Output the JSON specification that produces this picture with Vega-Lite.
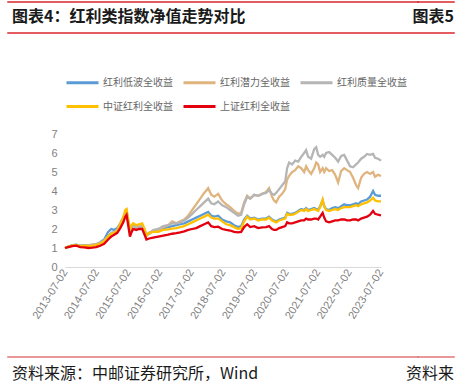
{
"$schema":"https://vega.github.io/schema/vega-lite/v6.json",
"padding":{"left":7,"top":1,"right":0,"bottom":0},
"config":{"view":{"stroke":null},"font":"Noto Sans CJK SC"},
"spacing":132,"bounds":"flush",
"resolve":{"scale":{"color":"independent"},"legend":{"color":"independent"}},
"vconcat":[
 {"spacing":31,"bounds":"flush","vconcat":[
  {"spacing":0.01,"bounds":"flush","hconcat":[
   {"width":410,"height":0.01,"data":{"values":[]},"mark":"rule","encoding":{},"view":{"stroke":"#D9262B","strokeWidth":1.5},
    "title":{"text":"图表4：红利类指数净值走势对比","orient":"bottom","anchor":"start","frame":"group","offset":7,"dx":4,"fontSize":16,"fontWeight":"bold","font":"Noto Sans CJK SC","color":"#1A1A1A"}},
   {"width":36,"height":0.01,"data":{"values":[]},"mark":"rule","encoding":{},"view":{"stroke":"#D9262B","strokeWidth":1.5},
    "title":{"text":"图表5","orient":"bottom","anchor":"end","frame":"group","offset":7,"fontSize":16,"fontWeight":"bold","font":"Noto Sans CJK SC","color":"#1A1A1A"}}
  ]},
  {"width":446,"height":0.01,"data":{"values":[]},"mark":"rule","encoding":{},"view":{"stroke":"#D9262B","strokeWidth":1.5}}
 ]},
 {"spacing":223,"bounds":"flush","resolve":{"scale":{"color":"independent"},"legend":{"color":"independent"}},"vconcat":[
  {"spacing":0.01,"bounds":"flush","resolve":{"scale":{"color":"independent"},"legend":{"color":"independent"}},"hconcat":[
   {"width":56.7,"height":0.01,"data":{"values":[]},"mark":"rule","encoding":{}},
   {"width":316,"height":133,
    "data":{"values":[
{"d":"2013-07-02","s":"红利低波全收益","v":1.00},{"d":"2013-08-09","s":"红利低波全收益","v":1.08},{"d":"2013-09-24","s":"红利低波全收益","v":1.15},{"d":"2013-11-09","s":"红利低波全收益","v":1.18},{"d":"2013-12-25","s":"红利低波全收益","v":1.12},{"d":"2014-02-10","s":"红利低波全收益","v":1.15},{"d":"2014-03-28","s":"红利低波全收益","v":1.13},{"d":"2014-05-13","s":"红利低波全收益","v":1.16},{"d":"2014-06-28","s":"红利低波全收益","v":1.20},{"d":"2014-08-13","s":"红利低波全收益","v":1.30},{"d":"2014-09-28","s":"红利低波全收益","v":1.45},{"d":"2014-11-13","s":"红利低波全收益","v":1.85},{"d":"2014-12-18","s":"红利低波全收益","v":2.00},{"d":"2015-01-22","s":"红利低波全收益","v":1.95},{"d":"2015-02-26","s":"红利低波全收益","v":2.05},{"d":"2015-04-02","s":"红利低波全收益","v":2.30},{"d":"2015-05-07","s":"红利低波全收益","v":2.60},{"d":"2015-05-30","s":"红利低波全收益","v":2.85},{"d":"2015-06-14","s":"红利低波全收益","v":2.90},{"d":"2015-07-03","s":"红利低波全收益","v":2.40},{"d":"2015-07-23","s":"红利低波全收益","v":1.95},{"d":"2015-08-12","s":"红利低波全收益","v":2.10},{"d":"2015-08-30","s":"红利低波全收益","v":2.20},{"d":"2015-10-03","s":"红利低波全收益","v":2.10},{"d":"2015-11-07","s":"红利低波全收益","v":2.15},{"d":"2015-12-12","s":"红利低波全收益","v":2.15},{"d":"2016-01-04","s":"红利低波全收益","v":2.00},{"d":"2016-01-30","s":"红利低波全收益","v":1.70},{"d":"2016-03-02","s":"红利低波全收益","v":1.80},{"d":"2016-04-17","s":"红利低波全收益","v":1.90},{"d":"2016-06-15","s":"红利低波全收益","v":1.95},{"d":"2016-08-11","s":"红利低波全收益","v":2.05},{"d":"2016-10-08","s":"红利低波全收益","v":2.10},{"d":"2016-11-23","s":"红利低波全收益","v":2.15},{"d":"2017-01-09","s":"红利低波全收益","v":2.20},{"d":"2017-02-24","s":"红利低波全收益","v":2.25},{"d":"2017-04-11","s":"红利低波全收益","v":2.30},{"d":"2017-05-27","s":"红利低波全收益","v":2.40},{"d":"2017-07-12","s":"红利低波全收益","v":2.50},{"d":"2017-08-27","s":"红利低波全收益","v":2.60},{"d":"2017-10-13","s":"红利低波全收益","v":2.70},{"d":"2017-11-28","s":"红利低波全收益","v":2.80},{"d":"2018-01-13","s":"红利低波全收益","v":2.90},{"d":"2018-02-17","s":"红利低波全收益","v":2.70},{"d":"2018-03-24","s":"红利低波全收益","v":2.65},{"d":"2018-05-09","s":"红利低波全收益","v":2.70},{"d":"2018-06-24","s":"红利低波全收益","v":2.50},{"d":"2018-08-09","s":"红利低波全收益","v":2.40},{"d":"2018-09-24","s":"红利低波全收益","v":2.35},{"d":"2018-11-09","s":"红利低波全收益","v":2.20},{"d":"2018-12-25","s":"红利低波全收益","v":2.10},{"d":"2019-01-29","s":"红利低波全收益","v":2.15},{"d":"2019-03-05","s":"红利低波全收益","v":2.50},{"d":"2019-04-09","s":"红利低波全收益","v":2.70},{"d":"2019-05-14","s":"红利低波全收益","v":2.55},{"d":"2019-06-29","s":"红利低波全收益","v":2.60},{"d":"2019-08-14","s":"红利低波全收益","v":2.50},{"d":"2019-09-29","s":"红利低波全收益","v":2.55},{"d":"2019-11-14","s":"红利低波全收益","v":2.55},{"d":"2019-12-18","s":"红利低波全收益","v":2.65},{"d":"2020-01-22","s":"红利低波全收益","v":2.50},{"d":"2020-02-14","s":"红利低波全收益","v":2.45},{"d":"2020-03-09","s":"红利低波全收益","v":2.40},{"d":"2020-04-13","s":"红利低波全收益","v":2.50},{"d":"2020-05-18","s":"红利低波全收益","v":2.55},{"d":"2020-06-22","s":"红利低波全收益","v":2.60},{"d":"2020-07-14","s":"红利低波全收益","v":2.85},{"d":"2020-08-06","s":"红利低波全收益","v":2.80},{"d":"2020-09-10","s":"红利低波全收益","v":2.80},{"d":"2020-10-15","s":"红利低波全收益","v":2.85},{"d":"2020-11-19","s":"红利低波全收益","v":2.95},{"d":"2020-12-24","s":"红利低波全收益","v":3.05},{"d":"2021-01-27","s":"红利低波全收益","v":3.00},{"d":"2021-02-19","s":"红利低波全收益","v":3.10},{"d":"2021-03-14","s":"红利低波全收益","v":3.00},{"d":"2021-04-18","s":"红利低波全收益","v":3.05},{"d":"2021-05-23","s":"红利低波全收益","v":3.10},{"d":"2021-06-15","s":"红利低波全收益","v":3.05},{"d":"2021-07-08","s":"红利低波全收益","v":3.00},{"d":"2021-07-31","s":"红利低波全收益","v":3.20},{"d":"2021-08-29","s":"红利低波全收益","v":3.50},{"d":"2021-09-16","s":"红利低波全收益","v":3.20},{"d":"2021-10-08","s":"红利低波全收益","v":3.05},{"d":"2021-11-12","s":"红利低波全收益","v":3.00},{"d":"2021-12-17","s":"红利低波全收益","v":3.10},{"d":"2022-01-21","s":"红利低波全收益","v":3.15},{"d":"2022-02-24","s":"红利低波全收益","v":3.10},{"d":"2022-03-31","s":"红利低波全收益","v":3.20},{"d":"2022-05-05","s":"红利低波全收益","v":3.30},{"d":"2022-06-08","s":"红利低波全收益","v":3.25},{"d":"2022-07-12","s":"红利低波全收益","v":3.25},{"d":"2022-08-16","s":"红利低波全收益","v":3.30},{"d":"2022-09-20","s":"红利低波全收益","v":3.35},{"d":"2022-10-13","s":"红利低波全收益","v":3.30},{"d":"2022-11-17","s":"红利低波全收益","v":3.45},{"d":"2022-12-21","s":"红利低波全收益","v":3.50},{"d":"2023-01-25","s":"红利低波全收益","v":3.55},{"d":"2023-03-01","s":"红利低波全收益","v":3.70},{"d":"2023-04-04","s":"红利低波全收益","v":4.00},{"d":"2023-04-27","s":"红利低波全收益","v":3.80},{"d":"2023-06-01","s":"红利低波全收益","v":3.75},{"d":"2023-07-05","s":"红利低波全收益","v":3.75},
{"d":"2013-07-02","s":"红利潜力全收益","v":1.00},{"d":"2013-08-09","s":"红利潜力全收益","v":1.07},{"d":"2013-09-24","s":"红利潜力全收益","v":1.12},{"d":"2013-11-09","s":"红利潜力全收益","v":1.15},{"d":"2013-12-25","s":"红利潜力全收益","v":1.10},{"d":"2014-02-10","s":"红利潜力全收益","v":1.13},{"d":"2014-03-28","s":"红利潜力全收益","v":1.15},{"d":"2014-05-13","s":"红利潜力全收益","v":1.18},{"d":"2014-06-28","s":"红利潜力全收益","v":1.20},{"d":"2014-08-13","s":"红利潜力全收益","v":1.28},{"d":"2014-09-28","s":"红利潜力全收益","v":1.40},{"d":"2014-11-13","s":"红利潜力全收益","v":1.60},{"d":"2014-12-18","s":"红利潜力全收益","v":1.75},{"d":"2015-01-22","s":"红利潜力全收益","v":1.80},{"d":"2015-02-26","s":"红利潜力全收益","v":1.95},{"d":"2015-04-02","s":"红利潜力全收益","v":2.30},{"d":"2015-05-07","s":"红利潜力全收益","v":2.60},{"d":"2015-05-30","s":"红利潜力全收益","v":2.85},{"d":"2015-06-14","s":"红利潜力全收益","v":2.95},{"d":"2015-07-03","s":"红利潜力全收益","v":2.35},{"d":"2015-07-23","s":"红利潜力全收益","v":1.95},{"d":"2015-08-12","s":"红利潜力全收益","v":2.10},{"d":"2015-08-30","s":"红利潜力全收益","v":2.20},{"d":"2015-10-03","s":"红利潜力全收益","v":2.10},{"d":"2015-11-07","s":"红利潜力全收益","v":2.15},{"d":"2015-12-12","s":"红利潜力全收益","v":2.20},{"d":"2016-01-04","s":"红利潜力全收益","v":1.95},{"d":"2016-01-30","s":"红利潜力全收益","v":1.65},{"d":"2016-03-02","s":"红利潜力全收益","v":1.75},{"d":"2016-04-17","s":"红利潜力全收益","v":1.90},{"d":"2016-06-15","s":"红利潜力全收益","v":1.95},{"d":"2016-08-11","s":"红利潜力全收益","v":2.10},{"d":"2016-10-08","s":"红利潜力全收益","v":2.20},{"d":"2016-11-23","s":"红利潜力全收益","v":2.40},{"d":"2017-01-09","s":"红利潜力全收益","v":2.30},{"d":"2017-02-24","s":"红利潜力全收益","v":2.40},{"d":"2017-04-11","s":"红利潜力全收益","v":2.50},{"d":"2017-05-27","s":"红利潜力全收益","v":2.70},{"d":"2017-07-12","s":"红利潜力全收益","v":3.00},{"d":"2017-08-27","s":"红利潜力全收益","v":3.30},{"d":"2017-10-13","s":"红利潜力全收益","v":3.60},{"d":"2017-11-28","s":"红利潜力全收益","v":3.90},{"d":"2018-01-13","s":"红利潜力全收益","v":4.15},{"d":"2018-02-17","s":"红利潜力全收益","v":3.80},{"d":"2018-03-24","s":"红利潜力全收益","v":3.70},{"d":"2018-05-09","s":"红利潜力全收益","v":3.85},{"d":"2018-06-24","s":"红利潜力全收益","v":3.50},{"d":"2018-08-09","s":"红利潜力全收益","v":3.30},{"d":"2018-09-24","s":"红利潜力全收益","v":3.15},{"d":"2018-11-09","s":"红利潜力全收益","v":2.95},{"d":"2018-12-25","s":"红利潜力全收益","v":2.80},{"d":"2019-01-29","s":"红利潜力全收益","v":2.85},{"d":"2019-03-05","s":"红利潜力全收益","v":3.40},{"d":"2019-04-09","s":"红利潜力全收益","v":3.75},{"d":"2019-05-14","s":"红利潜力全收益","v":3.60},{"d":"2019-06-29","s":"红利潜力全收益","v":3.80},{"d":"2019-08-14","s":"红利潜力全收益","v":3.75},{"d":"2019-09-29","s":"红利潜力全收益","v":3.85},{"d":"2019-11-14","s":"红利潜力全收益","v":3.95},{"d":"2019-12-18","s":"红利潜力全收益","v":4.15},{"d":"2020-01-22","s":"红利潜力全收益","v":3.70},{"d":"2020-02-14","s":"红利潜力全收益","v":3.50},{"d":"2020-03-09","s":"红利潜力全收益","v":3.40},{"d":"2020-04-13","s":"红利潜力全收益","v":3.70},{"d":"2020-05-18","s":"红利潜力全收益","v":3.85},{"d":"2020-06-22","s":"红利潜力全收益","v":4.10},{"d":"2020-07-14","s":"红利潜力全收益","v":4.60},{"d":"2020-08-06","s":"红利潜力全收益","v":4.80},{"d":"2020-09-10","s":"红利潜力全收益","v":5.00},{"d":"2020-10-15","s":"红利潜力全收益","v":5.10},{"d":"2020-11-19","s":"红利潜力全收益","v":5.30},{"d":"2020-12-24","s":"红利潜力全收益","v":5.20},{"d":"2021-01-27","s":"红利潜力全收益","v":5.00},{"d":"2021-02-19","s":"红利潜力全收益","v":5.30},{"d":"2021-03-14","s":"红利潜力全收益","v":5.10},{"d":"2021-04-18","s":"红利潜力全收益","v":4.90},{"d":"2021-05-23","s":"红利潜力全收益","v":5.20},{"d":"2021-06-15","s":"红利潜力全收益","v":5.50},{"d":"2021-07-08","s":"红利潜力全收益","v":5.40},{"d":"2021-07-31","s":"红利潜力全收益","v":5.00},{"d":"2021-08-29","s":"红利潜力全收益","v":5.20},{"d":"2021-09-16","s":"红利潜力全收益","v":5.00},{"d":"2021-10-08","s":"红利潜力全收益","v":5.20},{"d":"2021-11-12","s":"红利潜力全收益","v":5.05},{"d":"2021-12-17","s":"红利潜力全收益","v":5.10},{"d":"2022-01-21","s":"红利潜力全收益","v":4.85},{"d":"2022-02-24","s":"红利潜力全收益","v":4.45},{"d":"2022-03-31","s":"红利潜力全收益","v":5.05},{"d":"2022-05-05","s":"红利潜力全收益","v":5.20},{"d":"2022-06-08","s":"红利潜力全收益","v":5.10},{"d":"2022-07-12","s":"红利潜力全收益","v":5.00},{"d":"2022-08-16","s":"红利潜力全收益","v":4.70},{"d":"2022-09-20","s":"红利潜力全收益","v":4.30},{"d":"2022-10-13","s":"红利潜力全收益","v":4.15},{"d":"2022-11-17","s":"红利潜力全收益","v":4.70},{"d":"2022-12-21","s":"红利潜力全收益","v":4.90},{"d":"2023-01-25","s":"红利潜力全收益","v":5.00},{"d":"2023-03-01","s":"红利潜力全收益","v":4.90},{"d":"2023-04-04","s":"红利潜力全收益","v":5.00},{"d":"2023-04-27","s":"红利潜力全收益","v":4.75},{"d":"2023-06-01","s":"红利潜力全收益","v":4.85},{"d":"2023-07-05","s":"红利潜力全收益","v":4.80},
{"d":"2013-07-02","s":"红利质量全收益","v":1.00},{"d":"2013-08-09","s":"红利质量全收益","v":1.08},{"d":"2013-09-24","s":"红利质量全收益","v":1.13},{"d":"2013-11-09","s":"红利质量全收益","v":1.15},{"d":"2013-12-25","s":"红利质量全收益","v":1.10},{"d":"2014-02-10","s":"红利质量全收益","v":1.13},{"d":"2014-03-28","s":"红利质量全收益","v":1.12},{"d":"2014-05-13","s":"红利质量全收益","v":1.15},{"d":"2014-06-28","s":"红利质量全收益","v":1.18},{"d":"2014-08-13","s":"红利质量全收益","v":1.25},{"d":"2014-09-28","s":"红利质量全收益","v":1.38},{"d":"2014-11-13","s":"红利质量全收益","v":1.62},{"d":"2014-12-18","s":"红利质量全收益","v":1.80},{"d":"2015-01-22","s":"红利质量全收益","v":1.85},{"d":"2015-02-26","s":"红利质量全收益","v":1.95},{"d":"2015-04-02","s":"红利质量全收益","v":2.25},{"d":"2015-05-07","s":"红利质量全收益","v":2.60},{"d":"2015-05-30","s":"红利质量全收益","v":2.85},{"d":"2015-06-14","s":"红利质量全收益","v":2.90},{"d":"2015-07-03","s":"红利质量全收益","v":2.40},{"d":"2015-07-23","s":"红利质量全收益","v":1.95},{"d":"2015-08-12","s":"红利质量全收益","v":2.10},{"d":"2015-08-30","s":"红利质量全收益","v":2.20},{"d":"2015-10-03","s":"红利质量全收益","v":2.05},{"d":"2015-11-07","s":"红利质量全收益","v":2.10},{"d":"2015-12-12","s":"红利质量全收益","v":2.15},{"d":"2016-01-04","s":"红利质量全收益","v":1.90},{"d":"2016-01-30","s":"红利质量全收益","v":1.65},{"d":"2016-03-02","s":"红利质量全收益","v":1.75},{"d":"2016-04-17","s":"红利质量全收益","v":1.95},{"d":"2016-06-15","s":"红利质量全收益","v":2.00},{"d":"2016-08-11","s":"红利质量全收益","v":2.15},{"d":"2016-10-08","s":"红利质量全收益","v":2.20},{"d":"2016-11-23","s":"红利质量全收益","v":2.30},{"d":"2017-01-09","s":"红利质量全收益","v":2.30},{"d":"2017-02-24","s":"红利质量全收益","v":2.35},{"d":"2017-04-11","s":"红利质量全收益","v":2.45},{"d":"2017-05-27","s":"红利质量全收益","v":2.60},{"d":"2017-07-12","s":"红利质量全收益","v":2.80},{"d":"2017-08-27","s":"红利质量全收益","v":3.00},{"d":"2017-10-13","s":"红利质量全收益","v":3.20},{"d":"2017-11-28","s":"红利质量全收益","v":3.40},{"d":"2018-01-13","s":"红利质量全收益","v":3.60},{"d":"2018-02-17","s":"红利质量全收益","v":3.35},{"d":"2018-03-24","s":"红利质量全收益","v":3.30},{"d":"2018-05-09","s":"红利质量全收益","v":3.45},{"d":"2018-06-24","s":"红利质量全收益","v":3.25},{"d":"2018-08-09","s":"红利质量全收益","v":3.15},{"d":"2018-09-24","s":"红利质量全收益","v":3.00},{"d":"2018-11-09","s":"红利质量全收益","v":2.85},{"d":"2018-12-25","s":"红利质量全收益","v":2.70},{"d":"2019-01-29","s":"红利质量全收益","v":2.75},{"d":"2019-03-05","s":"红利质量全收益","v":3.30},{"d":"2019-04-09","s":"红利质量全收益","v":3.70},{"d":"2019-05-14","s":"红利质量全收益","v":3.60},{"d":"2019-06-29","s":"红利质量全收益","v":3.80},{"d":"2019-08-14","s":"红利质量全收益","v":3.75},{"d":"2019-09-29","s":"红利质量全收益","v":3.85},{"d":"2019-11-14","s":"红利质量全收益","v":3.90},{"d":"2019-12-18","s":"红利质量全收益","v":4.05},{"d":"2020-01-22","s":"红利质量全收益","v":3.85},{"d":"2020-02-14","s":"红利质量全收益","v":3.80},{"d":"2020-03-09","s":"红利质量全收益","v":3.90},{"d":"2020-04-13","s":"红利质量全收益","v":4.10},{"d":"2020-05-18","s":"红利质量全收益","v":4.30},{"d":"2020-06-22","s":"红利质量全收益","v":4.50},{"d":"2020-07-14","s":"红利质量全收益","v":5.20},{"d":"2020-08-06","s":"红利质量全收益","v":5.50},{"d":"2020-09-10","s":"红利质量全收益","v":5.40},{"d":"2020-10-15","s":"红利质量全收益","v":5.60},{"d":"2020-11-19","s":"红利质量全收益","v":5.55},{"d":"2020-12-24","s":"红利质量全收益","v":5.80},{"d":"2021-01-27","s":"红利质量全收益","v":6.00},{"d":"2021-02-19","s":"红利质量全收益","v":6.15},{"d":"2021-03-14","s":"红利质量全收益","v":5.80},{"d":"2021-04-18","s":"红利质量全收益","v":5.70},{"d":"2021-05-23","s":"红利质量全收益","v":6.20},{"d":"2021-06-15","s":"红利质量全收益","v":6.30},{"d":"2021-07-08","s":"红利质量全收益","v":5.90},{"d":"2021-07-31","s":"红利质量全收益","v":5.80},{"d":"2021-08-29","s":"红利质量全收益","v":5.90},{"d":"2021-09-16","s":"红利质量全收益","v":5.80},{"d":"2021-10-08","s":"红利质量全收益","v":6.00},{"d":"2021-11-12","s":"红利质量全收益","v":6.05},{"d":"2021-12-17","s":"红利质量全收益","v":5.90},{"d":"2022-01-21","s":"红利质量全收益","v":5.75},{"d":"2022-02-24","s":"红利质量全收益","v":5.55},{"d":"2022-03-31","s":"红利质量全收益","v":5.85},{"d":"2022-05-05","s":"红利质量全收益","v":5.90},{"d":"2022-06-08","s":"红利质量全收益","v":5.60},{"d":"2022-07-12","s":"红利质量全收益","v":5.30},{"d":"2022-08-16","s":"红利质量全收益","v":5.25},{"d":"2022-09-20","s":"红利质量全收益","v":5.40},{"d":"2022-10-13","s":"红利质量全收益","v":5.50},{"d":"2022-11-17","s":"红利质量全收益","v":5.70},{"d":"2022-12-21","s":"红利质量全收益","v":5.80},{"d":"2023-01-25","s":"红利质量全收益","v":5.95},{"d":"2023-03-01","s":"红利质量全收益","v":5.90},{"d":"2023-04-04","s":"红利质量全收益","v":5.95},{"d":"2023-04-27","s":"红利质量全收益","v":5.75},{"d":"2023-06-01","s":"红利质量全收益","v":5.70},{"d":"2023-07-05","s":"红利质量全收益","v":5.60},
{"d":"2013-07-02","s":"中证红利全收益","v":1.00},{"d":"2013-08-09","s":"中证红利全收益","v":1.07},{"d":"2013-09-24","s":"中证红利全收益","v":1.12},{"d":"2013-11-09","s":"中证红利全收益","v":1.15},{"d":"2013-12-25","s":"中证红利全收益","v":1.10},{"d":"2014-02-10","s":"中证红利全收益","v":1.12},{"d":"2014-03-28","s":"中证红利全收益","v":1.10},{"d":"2014-05-13","s":"中证红利全收益","v":1.12},{"d":"2014-06-28","s":"中证红利全收益","v":1.15},{"d":"2014-08-13","s":"中证红利全收益","v":1.22},{"d":"2014-09-28","s":"中证红利全收益","v":1.35},{"d":"2014-11-13","s":"中证红利全收益","v":1.60},{"d":"2014-12-18","s":"中证红利全收益","v":1.75},{"d":"2015-01-22","s":"中证红利全收益","v":1.80},{"d":"2015-02-26","s":"中证红利全收益","v":1.90},{"d":"2015-04-02","s":"中证红利全收益","v":2.25},{"d":"2015-05-07","s":"中证红利全收益","v":2.60},{"d":"2015-05-30","s":"中证红利全收益","v":3.00},{"d":"2015-06-14","s":"中证红利全收益","v":3.05},{"d":"2015-07-03","s":"中证红利全收益","v":2.50},{"d":"2015-07-23","s":"中证红利全收益","v":2.00},{"d":"2015-08-12","s":"中证红利全收益","v":2.20},{"d":"2015-08-30","s":"中证红利全收益","v":2.30},{"d":"2015-10-03","s":"中证红利全收益","v":2.20},{"d":"2015-11-07","s":"中证红利全收益","v":2.25},{"d":"2015-12-12","s":"中证红利全收益","v":2.30},{"d":"2016-01-04","s":"中证红利全收益","v":2.05},{"d":"2016-01-30","s":"中证红利全收益","v":1.65},{"d":"2016-03-02","s":"中证红利全收益","v":1.80},{"d":"2016-04-17","s":"中证红利全收益","v":1.85},{"d":"2016-06-15","s":"中证红利全收益","v":1.85},{"d":"2016-08-11","s":"中证红利全收益","v":1.95},{"d":"2016-10-08","s":"中证红利全收益","v":1.98},{"d":"2016-11-23","s":"中证红利全收益","v":2.02},{"d":"2017-01-09","s":"中证红利全收益","v":2.05},{"d":"2017-02-24","s":"中证红利全收益","v":2.10},{"d":"2017-04-11","s":"中证红利全收益","v":2.15},{"d":"2017-05-27","s":"中证红利全收益","v":2.25},{"d":"2017-07-12","s":"中证红利全收益","v":2.35},{"d":"2017-08-27","s":"中证红利全收益","v":2.45},{"d":"2017-10-13","s":"中证红利全收益","v":2.55},{"d":"2017-11-28","s":"中证红利全收益","v":2.65},{"d":"2018-01-13","s":"中证红利全收益","v":2.75},{"d":"2018-02-17","s":"中证红利全收益","v":2.60},{"d":"2018-03-24","s":"中证红利全收益","v":2.55},{"d":"2018-05-09","s":"中证红利全收益","v":2.55},{"d":"2018-06-24","s":"中证红利全收益","v":2.40},{"d":"2018-08-09","s":"中证红利全收益","v":2.25},{"d":"2018-09-24","s":"中证红利全收益","v":2.20},{"d":"2018-11-09","s":"中证红利全收益","v":2.10},{"d":"2018-12-25","s":"中证红利全收益","v":2.00},{"d":"2019-01-29","s":"中证红利全收益","v":2.05},{"d":"2019-03-05","s":"中证红利全收益","v":2.40},{"d":"2019-04-09","s":"中证红利全收益","v":2.65},{"d":"2019-05-14","s":"中证红利全收益","v":2.50},{"d":"2019-06-29","s":"中证红利全收益","v":2.55},{"d":"2019-08-14","s":"中证红利全收益","v":2.45},{"d":"2019-09-29","s":"中证红利全收益","v":2.50},{"d":"2019-11-14","s":"中证红利全收益","v":2.50},{"d":"2019-12-18","s":"中证红利全收益","v":2.60},{"d":"2020-01-22","s":"中证红利全收益","v":2.45},{"d":"2020-02-14","s":"中证红利全收益","v":2.40},{"d":"2020-03-09","s":"中证红利全收益","v":2.35},{"d":"2020-04-13","s":"中证红利全收益","v":2.45},{"d":"2020-05-18","s":"中证红利全收益","v":2.50},{"d":"2020-06-22","s":"中证红利全收益","v":2.55},{"d":"2020-07-14","s":"中证红利全收益","v":2.80},{"d":"2020-08-06","s":"中证红利全收益","v":2.75},{"d":"2020-09-10","s":"中证红利全收益","v":2.75},{"d":"2020-10-15","s":"中证红利全收益","v":2.80},{"d":"2020-11-19","s":"中证红利全收益","v":2.90},{"d":"2020-12-24","s":"中证红利全收益","v":3.00},{"d":"2021-01-27","s":"中证红利全收益","v":2.95},{"d":"2021-02-19","s":"中证红利全收益","v":3.05},{"d":"2021-03-14","s":"中证红利全收益","v":2.95},{"d":"2021-04-18","s":"中证红利全收益","v":3.00},{"d":"2021-05-23","s":"中证红利全收益","v":3.05},{"d":"2021-06-15","s":"中证红利全收益","v":3.00},{"d":"2021-07-08","s":"中证红利全收益","v":2.95},{"d":"2021-07-31","s":"中证红利全收益","v":3.15},{"d":"2021-08-29","s":"中证红利全收益","v":3.55},{"d":"2021-09-16","s":"中证红利全收益","v":3.20},{"d":"2021-10-08","s":"中证红利全收益","v":3.00},{"d":"2021-11-12","s":"中证红利全收益","v":2.95},{"d":"2021-12-17","s":"中证红利全收益","v":3.00},{"d":"2022-01-21","s":"中证红利全收益","v":3.05},{"d":"2022-02-24","s":"中证红利全收益","v":3.00},{"d":"2022-03-31","s":"中证红利全收益","v":3.10},{"d":"2022-05-05","s":"中证红利全收益","v":3.15},{"d":"2022-06-08","s":"中证红利全收益","v":3.15},{"d":"2022-07-12","s":"中证红利全收益","v":3.15},{"d":"2022-08-16","s":"中证红利全收益","v":3.20},{"d":"2022-09-20","s":"中证红利全收益","v":3.25},{"d":"2022-10-13","s":"中证红利全收益","v":3.20},{"d":"2022-11-17","s":"中证红利全收益","v":3.30},{"d":"2022-12-21","s":"中证红利全收益","v":3.35},{"d":"2023-01-25","s":"中证红利全收益","v":3.40},{"d":"2023-03-01","s":"中证红利全收益","v":3.50},{"d":"2023-04-04","s":"中证红利全收益","v":3.65},{"d":"2023-04-27","s":"中证红利全收益","v":3.50},{"d":"2023-06-01","s":"中证红利全收益","v":3.45},{"d":"2023-07-05","s":"中证红利全收益","v":3.45},
{"d":"2013-07-02","s":"上证红利全收益","v":1.00},{"d":"2013-08-09","s":"上证红利全收益","v":1.05},{"d":"2013-09-24","s":"上证红利全收益","v":1.10},{"d":"2013-11-09","s":"上证红利全收益","v":1.12},{"d":"2013-12-25","s":"上证红利全收益","v":1.05},{"d":"2014-02-10","s":"上证红利全收益","v":1.03},{"d":"2014-03-28","s":"上证红利全收益","v":1.00},{"d":"2014-05-13","s":"上证红利全收益","v":1.02},{"d":"2014-06-28","s":"上证红利全收益","v":1.05},{"d":"2014-08-13","s":"上证红利全收益","v":1.12},{"d":"2014-09-28","s":"上证红利全收益","v":1.22},{"d":"2014-11-13","s":"上证红利全收益","v":1.45},{"d":"2014-12-18","s":"上证红利全收益","v":1.60},{"d":"2015-01-22","s":"上证红利全收益","v":1.70},{"d":"2015-02-26","s":"上证红利全收益","v":1.80},{"d":"2015-04-02","s":"上证红利全收益","v":2.05},{"d":"2015-05-07","s":"上证红利全收益","v":2.35},{"d":"2015-05-30","s":"上证红利全收益","v":2.65},{"d":"2015-06-14","s":"上证红利全收益","v":2.75},{"d":"2015-07-03","s":"上证红利全收益","v":2.20},{"d":"2015-07-23","s":"上证红利全收益","v":1.60},{"d":"2015-08-12","s":"上证红利全收益","v":1.85},{"d":"2015-08-30","s":"上证红利全收益","v":2.00},{"d":"2015-10-03","s":"上证红利全收益","v":1.95},{"d":"2015-11-07","s":"上证红利全收益","v":2.00},{"d":"2015-12-12","s":"上证红利全收益","v":2.00},{"d":"2016-01-04","s":"上证红利全收益","v":1.75},{"d":"2016-01-30","s":"上证红利全收益","v":1.45},{"d":"2016-03-02","s":"上证红利全收益","v":1.50},{"d":"2016-04-17","s":"上证红利全收益","v":1.55},{"d":"2016-06-15","s":"上证红利全收益","v":1.60},{"d":"2016-08-11","s":"上证红利全收益","v":1.65},{"d":"2016-10-08","s":"上证红利全收益","v":1.70},{"d":"2016-11-23","s":"上证红利全收益","v":1.75},{"d":"2017-01-09","s":"上证红利全收益","v":1.78},{"d":"2017-02-24","s":"上证红利全收益","v":1.82},{"d":"2017-04-11","s":"上证红利全收益","v":1.88},{"d":"2017-05-27","s":"上证红利全收益","v":1.95},{"d":"2017-07-12","s":"上证红利全收益","v":2.00},{"d":"2017-08-27","s":"上证红利全收益","v":2.05},{"d":"2017-10-13","s":"上证红利全收益","v":2.15},{"d":"2017-11-28","s":"上证红利全收益","v":2.25},{"d":"2018-01-13","s":"上证红利全收益","v":2.35},{"d":"2018-02-17","s":"上证红利全收益","v":2.15},{"d":"2018-03-24","s":"上证红利全收益","v":2.10},{"d":"2018-05-09","s":"上证红利全收益","v":2.12},{"d":"2018-06-24","s":"上证红利全收益","v":2.00},{"d":"2018-08-09","s":"上证红利全收益","v":1.95},{"d":"2018-09-24","s":"上证红利全收益","v":1.92},{"d":"2018-11-09","s":"上证红利全收益","v":1.85},{"d":"2018-12-25","s":"上证红利全收益","v":1.82},{"d":"2019-01-29","s":"上证红利全收益","v":1.85},{"d":"2019-03-05","s":"上证红利全收益","v":2.10},{"d":"2019-04-09","s":"上证红利全收益","v":2.25},{"d":"2019-05-14","s":"上证红利全收益","v":2.10},{"d":"2019-06-29","s":"上证红利全收益","v":2.15},{"d":"2019-08-14","s":"上证红利全收益","v":2.05},{"d":"2019-09-29","s":"上证红利全收益","v":2.08},{"d":"2019-11-14","s":"上证红利全收益","v":2.10},{"d":"2019-12-18","s":"上证红利全收益","v":2.15},{"d":"2020-01-22","s":"上证红利全收益","v":2.00},{"d":"2020-02-14","s":"上证红利全收益","v":1.95},{"d":"2020-03-09","s":"上证红利全收益","v":1.95},{"d":"2020-04-13","s":"上证红利全收益","v":2.05},{"d":"2020-05-18","s":"上证红利全收益","v":2.10},{"d":"2020-06-22","s":"上证红利全收益","v":2.15},{"d":"2020-07-14","s":"上证红利全收益","v":2.35},{"d":"2020-08-06","s":"上证红利全收益","v":2.30},{"d":"2020-09-10","s":"上证红利全收益","v":2.30},{"d":"2020-10-15","s":"上证红利全收益","v":2.35},{"d":"2020-11-19","s":"上证红利全收益","v":2.40},{"d":"2020-12-24","s":"上证红利全收益","v":2.45},{"d":"2021-01-27","s":"上证红利全收益","v":2.45},{"d":"2021-02-19","s":"上证红利全收益","v":2.55},{"d":"2021-03-14","s":"上证红利全收益","v":2.50},{"d":"2021-04-18","s":"上证红利全收益","v":2.50},{"d":"2021-05-23","s":"上证红利全收益","v":2.55},{"d":"2021-06-15","s":"上证红利全收益","v":2.55},{"d":"2021-07-08","s":"上证红利全收益","v":2.50},{"d":"2021-07-31","s":"上证红利全收益","v":2.65},{"d":"2021-08-29","s":"上证红利全收益","v":2.85},{"d":"2021-09-16","s":"上证红利全收益","v":2.60},{"d":"2021-10-08","s":"上证红利全收益","v":2.40},{"d":"2021-11-12","s":"上证红利全收益","v":2.35},{"d":"2021-12-17","s":"上证红利全收益","v":2.40},{"d":"2022-01-21","s":"上证红利全收益","v":2.45},{"d":"2022-02-24","s":"上证红利全收益","v":2.45},{"d":"2022-03-31","s":"上证红利全收益","v":2.50},{"d":"2022-05-05","s":"上证红利全收益","v":2.50},{"d":"2022-06-08","s":"上证红利全收益","v":2.45},{"d":"2022-07-12","s":"上证红利全收益","v":2.45},{"d":"2022-08-16","s":"上证红利全收益","v":2.50},{"d":"2022-09-20","s":"上证红利全收益","v":2.50},{"d":"2022-10-13","s":"上证红利全收益","v":2.45},{"d":"2022-11-17","s":"上证红利全收益","v":2.55},{"d":"2022-12-21","s":"上证红利全收益","v":2.60},{"d":"2023-01-25","s":"上证红利全收益","v":2.65},{"d":"2023-03-01","s":"上证红利全收益","v":2.75},{"d":"2023-04-04","s":"上证红利全收益","v":2.95},{"d":"2023-04-27","s":"上证红利全收益","v":2.80},{"d":"2023-06-01","s":"上证红利全收益","v":2.75},{"d":"2023-07-05","s":"上证红利全收益","v":2.72}
    ]},
    "mark":{"type":"line","strokeWidth":2.3},
    "encoding":{
     "x":{"field":"d","type":"temporal","scale":{"type":"utc","domain":[{"year":2013,"month":7,"date":2,"utc":true},{"year":2023,"month":7,"date":5,"utc":true}]},
      "axis":{"title":null,"values":[{"year":2013,"month":7,"date":2,"utc":true},{"year":2014,"month":7,"date":2,"utc":true},{"year":2015,"month":7,"date":2,"utc":true},{"year":2016,"month":7,"date":2,"utc":true},{"year":2017,"month":7,"date":2,"utc":true},{"year":2018,"month":7,"date":2,"utc":true},{"year":2019,"month":7,"date":2,"utc":true},{"year":2020,"month":7,"date":2,"utc":true},{"year":2021,"month":7,"date":2,"utc":true},{"year":2022,"month":7,"date":2,"utc":true},{"year":2023,"month":7,"date":2,"utc":true}],
       "format":"%Y-%m-%d","labelAngle":-58,"labelAlign":"right","labelBaseline":"middle","labelPadding":3,"labelFont":"Liberation Sans","labelFontSize":11,"labelColor":"#808080","ticks":false,"grid":false,"domainColor":"#D9D9D9","labelOverlap":false,"labelFlush":false}},
     "y":{"field":"v","type":"quantitative","scale":{"domain":[0,7],"nice":false},
      "axis":{"title":null,"values":[0,1,2,3,4,5,6,7],"grid":false,"domain":false,"ticks":false,"labelPadding":8,"labelFont":"Liberation Sans","labelFontSize":11,"labelColor":"#808080"}},
     "color":{"field":"s","type":"nominal","sort":null,
      "scale":{"domain":["红利低波全收益","红利潜力全收益","红利质量全收益","中证红利全收益","上证红利全收益"],"range":["#5B9BD5","#E0B47E","#B5B5B5","#FFC000","#E3000F"]},
      "legend":{"title":null,"orient":"top","direction":"horizontal","columns":3,"symbolType":"stroke","symbolSize":1024,"symbolStrokeWidth":3,"labelFont":"Noto Sans CJK SC","labelFontSize":10,"labelColor":"#666666","columnPadding":4,"rowPadding":-12,"labelOffset":3,"offset":21,"padding":0}}
    }}
  ]},
  {"spacing":0.01,"bounds":"flush","hconcat":[
   {"width":410,"height":0.01,"data":{"values":[]},"mark":"rule","encoding":{},"view":{"stroke":"#E07478","strokeWidth":1.5},
    "title":{"text":"资料来源：中邮证券研究所，Wind","orient":"bottom","anchor":"start","frame":"group","offset":9,"dx":4,"fontSize":16,"fontWeight":"normal","font":"Noto Sans CJK SC","color":"#1A1A1A"}},
   {"width":36,"height":0.01,"data":{"values":[]},"mark":"rule","encoding":{},"view":{"stroke":"#E07478","strokeWidth":1.5},
    "title":{"text":"资料来","orient":"bottom","anchor":"end","frame":"group","offset":9,"fontSize":16,"fontWeight":"normal","font":"Noto Sans CJK SC","color":"#1A1A1A"}}
  ]}
 ]}
]
}
